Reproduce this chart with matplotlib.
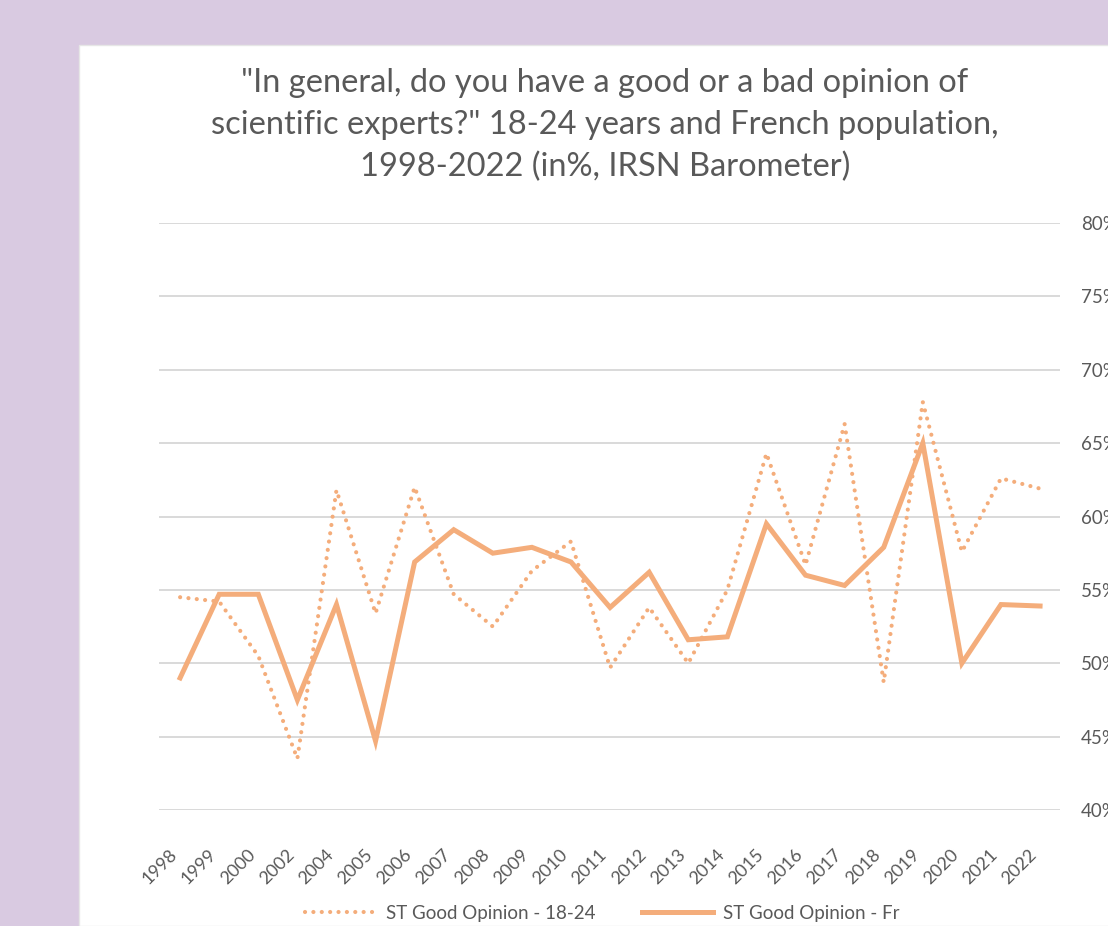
import matplotlib
matplotlib.use("Agg")
import matplotlib.pyplot as plt
from matplotlib.patches import Rectangle
from matplotlib import ticker as mticker

years = ["1998", "1999", "2000", "2002", "2004", "2005", "2006", "2007", "2008",
         "2009", "2010", "2011", "2012", "2013", "2014", "2015", "2016", "2017",
         "2018", "2019", "2020", "2021", "2022"]
good_18_24 = [54.5, 54.2, 50.5, 43.5, 61.8, 53.4, 62.0, 54.7, 52.5, 56.3, 58.3, 49.7,
              53.8, 50.0, 55.0, 64.3, 56.7, 66.3, 48.7, 67.8, 57.6, 62.6, 61.9]
good_fr = [49.0, 54.7, 54.7, 47.5, 54.0, 44.7, 56.9, 59.1, 57.5, 57.9, 56.9, 53.8,
           56.2, 51.6, 51.8, 59.5, 56.0, 55.3, 57.9, 65.0, 50.0, 54.0, 53.9]

title = ('"In general, do you have a good or a bad opinion of\n'
         'scientific experts?" 18-24 years and French population,\n'
         '1998-2022 (in%, IRSN Barometer)')

orange = "#f4ad7b"
grey_text = "#595959"

plt.rcParams["font.family"] = ["Lato", "DejaVu Sans"]

fig = plt.figure(figsize=(11.08, 9.26), dpi=100)
fig.patch.set_facecolor("#d9cae1")
W, H = 1108, 926
fig.add_artist(Rectangle((79 / W, 0), 1, 1 - 45 / H, transform=fig.transFigure,
                         facecolor="white", edgecolor="#e6e6e6", lw=1, zorder=0))

ax = fig.add_axes([159 / W, 1 - 810 / H, (1060 - 159) / W, (810 - 223) / H])
ax.set_facecolor("none")
x = list(range(len(years)))
ax.plot(x, good_18_24, color=orange, lw=3.0, linestyle=(0, (0.01, 2.0)),
        dash_capstyle="round", label="ST Good Opinion - 18-24")
ax.plot(x, good_fr, color=orange, lw=3.6, solid_joinstyle="miter",
        label="ST Good Opinion - Fr")

ax.set_xlim(-0.54, 22.51)
ax.set_ylim(40, 80)
ax.set_yticks(range(40, 81, 5))
ax.yaxis.set_major_formatter(mticker.FuncFormatter(lambda v, p: f"{v:.0f}%"))
ax.yaxis.tick_right()
ax.grid(axis="y", color="#d9d9d9", lw=1.4)
ax.set_axisbelow(True)
for s in ax.spines.values():
    s.set_visible(False)
ax.tick_params(axis="y", length=0, pad=15, labelsize=13.5, labelcolor=grey_text)
ax.set_xticks(x)
ax.set_xticklabels(years, rotation=45, ha="right", fontsize=13, color=grey_text)
ax.tick_params(axis="x", length=0, pad=26)

fig.text(605 / W, 1 - 68 / H, title, ha="center", va="top", fontsize=23.5,
         color=grey_text, linespacing=1.48)

fig.legend(loc="center", bbox_to_anchor=(602 / W, 1 - 913 / H), ncol=2,
           frameon=False, fontsize=13.5, labelcolor=grey_text,
           handlelength=3.8, handletextpad=0.5, columnspacing=2.5)

fig.savefig("out.png", dpi=100, facecolor=fig.get_facecolor())
